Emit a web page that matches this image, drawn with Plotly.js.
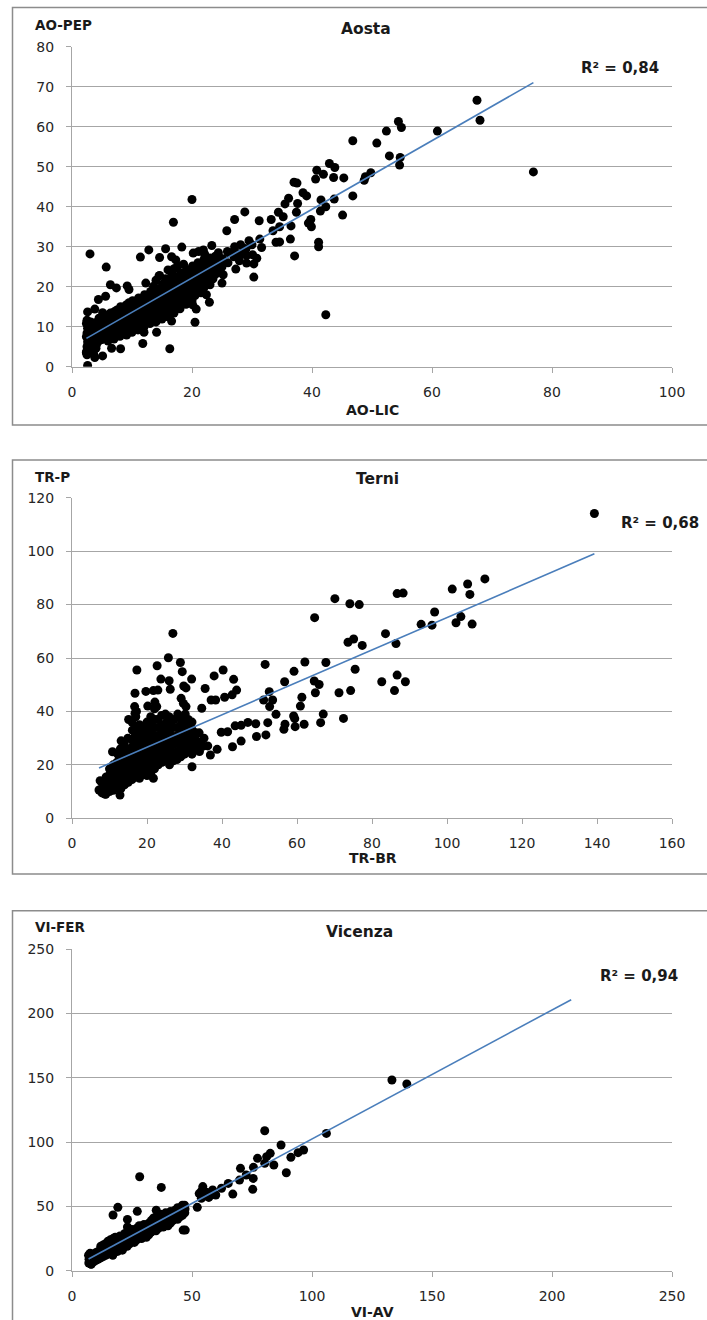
<!DOCTYPE html>
<html><head><meta charset="utf-8">
<script src="https://cdn.plot.ly/plotly-3.0.1.min.js"></script>
<style>html,body{margin:0;padding:0;background:#fff}#chart{width:707px;height:1320px}</style>
</head><body><div id="chart"></div>
<script>
// ---------- DATA ----------
const aostaPts = [
[76.9,48.7],[67.5,66.6],[68.0,61.6],[60.9,58.9],[54.4,61.3],[54.9,59.8],[52.4,58.9],[50.8,55.9],[52.9,52.7],[54.7,52.3],
[54.6,50.4],[46.8,56.5],[49.8,48.5],[48.9,47.5],[48.7,46.6],[42.9,50.8],[43.8,49.8],[40.8,49.1],[40.6,46.9],[43.6,47.3],
[45.3,47.2],[41.9,48.1],[46.8,42.7],[43.7,41.9],[41.5,41.7],[42.3,40.0],[41.4,38.9],[45.1,37.9],[37.0,46.1],[37.5,45.9],
[38.5,43.5],[39.1,42.7],[36.1,42.1],[35.5,40.7],[37.6,40.8],[37.4,38.6],[34.4,38.6],[35.2,37.5],[33.2,36.8],[34.6,35.0],
[33.5,34.0],[36.5,35.2],[39.8,36.8],[39.4,35.9],[39.9,35.0],[41.1,31.1],[41.1,30.0],[36.4,31.9],[37.1,27.7],[34.6,31.2],
[34.0,31.1],[31.2,36.5],[28.8,38.7],[27.1,36.8],[25.8,34.0],[31.3,31.9],[29.5,31.5],[31.6,29.8],[30.8,27.1],[29.1,25.9],
[30.3,25.7],[30.3,22.4],[27.3,24.4],[27.1,30.0],[28.6,29.6],[25.9,28.8],[23.3,30.3],[24.4,27.7],[23.7,25.9],[24.8,24.6],
[25.2,23.0],[25.0,20.9],[23.2,21.7],[22.4,18.0],[22.9,16.1],[20.0,41.8],[16.9,36.1],[12.8,29.2],[11.4,27.4],[14.6,27.3],
[15.6,29.5],[18.3,29.9],[20.2,28.4],[21.1,28.8],[21.9,29.2],[16.6,27.5],[17.3,26.7],[14.5,22.7],[12.3,20.9],[3.0,28.2],
[5.7,24.9],[6.4,20.5],[9.2,20.2],[9.5,19.3],[7.4,19.7],[5.6,17.6],[4.4,16.8],[3.8,14.4],[2.6,13.7],[20.5,11.1],
[20.7,14.4],[20.1,15.5],[42.3,13.0],[16.6,11.4],[14.1,8.6],[11.8,5.8],[16.3,4.5],[8.1,4.5],[6.6,4.6],[5.1,2.7],
[3.8,2.3],[2.6,0.3],[2.4,3.7],[2.6,5.1],
[2.4,3.5],[2.5,5.0],[2.6,6.2],[2.4,7.5],[2.5,8.4],[2.6,9.6],[2.4,10.8],[2.5,11.6],[2.6,4.2],[2.5,3.0],
[3.0,5.5],[3.1,7.0],[2.9,8.8],[3.0,10.2],[3.1,11.2],[3.0,6.4],
[3.5,4.0],[3.6,6.0],[3.4,9.1],[3.5,10.5],[3.6,3.2],
[4.0,7.2],[4.1,8.3],[3.9,11.0],[4.0,4.6],[4.1,5.6],
[4.5,6.5],[4.6,9.5],[4.4,10.3],[4.5,12.1],
[5.0,7.8],[5.1,8.9],[4.9,11.4],[5.0,6.8],[5.1,13.5],
[5.5,9.3],[5.6,10.6],[5.4,12.4],[5.5,7.1],
[6.0,6.4],[6.1,8.0],[5.9,11.8],[6.0,12.9],[6.1,9.9],
[6.5,7.5],[6.6,10.2],[6.4,13.4],[6.5,8.7],
[7.0,9.0],[7.1,11.1],[6.9,12.5],[7.0,6.9],[7.1,13.8],
[7.5,8.2],[7.6,10.5],[7.4,12.0],[7.5,14.2],
[8.0,7.6],[8.1,9.8],[7.9,11.6],[8.0,13.1],[8.1,15.0],
[8.5,8.9],[8.6,10.9],[8.4,12.8],[8.5,14.6],
[9.0,9.4],[9.1,11.3],[8.9,13.5],[9.0,15.4],[9.1,7.9],
[9.5,10.1],[9.6,12.2],[9.4,14.1],[9.5,16.0],
[10.0,8.6],[10.1,11.0],[9.9,12.9],[10.0,14.8],[10.1,16.5],
[10.5,10.4],[10.6,13.6],[10.4,15.2],[10.5,11.8],
[11.0,9.2],[11.1,12.0],[10.9,14.2],[11.0,15.9],[11.1,17.2],
[11.5,11.1],[11.6,13.0],[11.4,14.9],[11.5,16.8],
[12.0,10.0],[12.1,12.6],[11.9,14.5],[12.0,16.3],[12.1,18.0],[12.0,8.6],
[12.5,11.5],[12.6,13.9],[12.4,15.7],[12.5,17.6],
[13.0,10.8],[13.1,12.9],[12.9,15.0],[13.0,17.0],[13.1,18.8],
[13.5,12.4],[13.6,14.4],[13.4,16.4],[13.5,18.2],[13.6,20.1],
[14.0,11.2],[14.1,13.6],[13.9,15.8],[14.0,17.7],[14.1,19.5],[14.0,21.6],
[14.5,12.8],[14.6,15.2],[14.4,17.1],[14.5,19.0],[14.6,22.8],
[15.0,11.9],[15.1,14.3],[14.9,16.5],[15.0,18.5],[15.1,20.6],
[15.5,13.5],[15.6,15.9],[15.4,18.0],[15.5,20.0],[15.6,22.0],
[16.0,12.5],[16.1,15.0],[15.9,17.3],[16.0,19.4],[16.1,21.5],[16.0,24.2],
[16.5,14.2],[16.6,16.7],[16.4,18.8],[16.5,20.9],[16.6,23.4],
[17.0,13.4],[17.1,15.8],[16.9,18.1],[17.0,20.3],[17.1,22.5],[17.0,24.5],
[17.5,15.1],[17.6,17.5],[17.4,19.7],[17.5,21.9],[17.6,25.2],
[18.0,14.5],[18.1,16.8],[17.9,19.0],[18.0,21.2],[18.1,23.5],
[18.5,16.2],[18.6,18.4],[18.4,20.6],[18.5,22.8],[18.6,25.6],
[19.0,15.6],[19.1,17.9],[18.9,20.1],[19.0,22.2],[19.1,24.3],
[19.5,17.2],[19.6,19.4],[19.4,21.6],[19.5,23.8],
[20.0,16.5],[20.1,18.7],[19.9,21.0],[20.0,23.1],[20.1,25.2],
[20.5,17.8],[20.6,20.2],[20.4,22.5],[20.5,24.6],
[21.0,19.1],[21.1,21.4],[20.9,23.7],[21.0,26.0],
[21.5,18.5],[21.6,20.8],[21.4,23.0],[21.5,25.3],
[22.0,19.8],[22.1,22.1],[21.9,24.4],[22.0,26.8],[22.1,28.2],
[22.5,21.2],[22.6,23.5],[22.4,25.7],
[23.0,20.5],[23.1,22.8],[22.9,25.0],[23.0,27.2],
[23.5,22.0],[23.6,24.2],[23.4,26.5],
[24.0,23.2],[24.1,25.5],[23.9,27.6],
[24.5,24.0],[24.6,26.2],[24.4,28.5],
[25.0,25.0],[25.1,27.0],[26.0,26.0],[26.1,28.5],[27.0,27.5],[27.1,29.0],
[28.0,28.0],[28.1,30.5],[27.9,26.5],[29.0,29.5],[29.1,27.8],[30.0,30.5],[30.1,28.0]
];

const terniPts = [
[139.3,114.1],[110.1,89.6],[101.4,85.8],[105.5,87.7],[106.1,83.8],[86.7,84.1],[88.3,84.3],[70.1,82.2],[74.1,80.3],[76.6,80.0],
[64.7,75.1],[96.7,77.2],[93.1,72.6],[96.0,72.3],[102.4,73.2],[103.7,75.5],[106.7,72.7],[83.6,69.1],[86.4,65.4],[73.6,65.9],
[75.1,67.1],[77.4,64.7],[67.7,58.3],[62.1,58.5],[59.2,55.0],[75.5,55.8],[56.7,51.1],[51.5,57.6],[82.6,51.1],[86.7,53.6],
[88.9,51.1],[86.0,47.8],[74.3,47.8],[71.2,47.0],[64.6,51.4],[65.9,50.1],[64.9,47.0],[61.3,45.3],[60.9,42.0],[52.6,47.4],
[53.5,44.3],[52.7,41.8],[51.1,44.3],[54.4,38.9],[59.1,38.3],[59.4,37.3],[56.8,35.2],[56.5,33.3],[59.5,34.3],[61.9,35.2],
[67.0,39.0],[66.3,35.8],[72.4,37.4],[52.2,35.8],[51.7,31.2],[49.2,30.6],[49.0,35.4],[46.9,35.9],[45.1,34.8],[43.5,34.6],
[45.1,28.9],[42.8,26.8],[41.5,32.4],[39.8,32.2],[38.7,25.8],[36.9,23.7],[36.2,27.1],[43.9,48.0],[42.7,46.2],[43.1,52.0],
[40.7,45.3],[40.3,55.5],[37.9,53.3],[37.1,44.3],[38.3,44.3],[35.5,48.6],[34.6,41.2],[31.9,52.1],[26.9,69.2],[25.7,60.1],
[28.9,58.3],[22.7,57.1],[29.4,54.9],[25.9,51.5],[23.7,52.1],[26.2,48.3],[17.3,55.5],[16.8,46.8],[19.7,47.5],[21.7,47.8],
[22.9,48.0],[22.1,43.5],[22.6,41.8],[29.8,49.5],[30.4,48.8],[29.1,44.9],[29.7,43.0],[30.4,41.8],[32.0,19.3],[21.7,15.0],
[10.8,24.9],[7.5,14.1],[7.2,10.6],[8.8,9.1],[12.8,8.7],[16.7,41.8],[16.8,39.3],
[8.0,9.5],[8.2,11.5],[7.9,13.5],
[9.0,9.0],[9.2,11.0],[8.9,13.0],[9.1,15.5],
[10.0,10.0],[10.2,12.0],[9.9,14.0],[10.1,16.5],[10.0,18.5],
[11.0,10.5],[11.2,12.5],[10.9,14.5],[11.1,17.0],[11.0,20.0],
[12.0,11.5],[12.2,13.5],[11.9,16.0],[12.1,18.5],[12.0,21.0],[12.2,24.0],
[13.0,11.0],[13.2,13.0],[12.9,15.5],[13.1,18.0],[13.0,20.5],[13.2,23.0],[12.9,26.0],[13.1,29.0],
[14.0,12.5],[14.2,14.5],[13.9,17.0],[14.1,19.5],[14.0,22.0],[14.2,25.0],[13.9,28.0],
[15.0,13.5],[15.2,15.5],[14.9,18.0],[15.1,20.5],[15.0,23.0],[15.2,26.0],[14.9,30.0],[15.1,37.0],
[16.0,14.5],[16.2,16.5],[15.9,19.0],[16.1,22.0],[16.0,24.5],[16.2,27.0],[15.9,29.5],[16.1,33.0],[16.0,36.0],
[17.0,15.5],[17.2,18.0],[16.9,20.5],[17.1,23.0],[17.0,25.5],[17.2,28.0],[16.9,31.0],[17.1,34.0],[17.0,38.0],[17.2,40.0],
[18.0,15.0],[18.2,17.5],[17.9,20.0],[18.1,22.5],[18.0,25.0],[18.2,27.5],[17.9,30.0],[18.1,32.5],[18.0,35.0],
[19.0,16.5],[19.2,19.0],[18.9,21.5],[19.1,24.0],[19.0,26.5],[19.2,29.0],[18.9,31.5],[19.1,34.0],
[20.0,16.0],[20.2,18.0],[19.9,20.5],[20.1,23.0],[20.0,25.5],[20.2,28.0],[19.9,30.5],[20.1,33.0],[20.0,36.0],[20.2,42.0],
[21.0,17.0],[21.2,19.5],[20.9,22.0],[21.1,24.5],[21.0,27.0],[21.2,29.5],[20.9,32.0],[21.1,35.0],[21.0,38.0],
[22.0,18.5],[22.2,21.0],[21.9,23.5],[22.1,26.0],[22.0,28.5],[22.2,31.0],[21.9,34.0],[22.1,37.0],[22.0,41.0],
[23.0,20.0],[23.2,22.5],[22.9,25.0],[23.1,28.0],[23.0,31.0],[23.2,34.0],[22.9,37.0],
[24.0,21.0],[24.2,23.5],[23.9,26.0],[24.1,29.0],[24.0,32.0],[24.2,35.0],[23.9,38.5],
[25.0,22.0],[25.2,24.5],[24.9,27.0],[25.1,30.0],[25.0,33.0],[25.2,36.0],[24.9,39.0],
[26.0,20.0],[26.2,23.0],[25.9,26.0],[26.1,29.0],[26.0,32.0],[26.2,35.0],[25.9,38.0],
[27.0,21.5],[27.2,24.5],[26.9,27.5],[27.1,30.5],[27.0,34.0],[27.2,37.0],
[28.0,22.0],[28.2,25.0],[27.9,28.0],[28.1,31.0],[28.0,34.0],[28.2,39.0],
[29.0,23.0],[29.2,26.0],[28.9,29.0],[29.1,32.0],[29.0,35.0],[29.2,37.0],
[30.0,24.0],[30.2,27.0],[29.9,30.0],[30.1,33.0],[30.0,36.0],[30.2,39.0],
[31.0,25.0],[31.2,28.0],[30.9,31.0],[31.1,34.0],[31.0,37.0],
[32.0,24.0],[32.2,27.0],[31.9,30.0],[32.1,33.0],[32.0,36.0],
[33.0,26.0],[33.2,29.0],[32.9,32.0],[34.0,25.0],[34.2,28.5],[33.9,32.0],[35.0,27.0],[35.2,30.0]
];

const vicenzaPts = [
[133.3,148.3],[139.5,145.2],[106.0,106.8],[80.3,108.9],[87.1,97.8],[96.5,93.9],[94.2,91.8],[91.2,88.2],[89.3,76.2],[82.6,91.3],
[81.1,88.7],[77.3,87.4],[84.1,82.2],[80.3,83.5],[75.6,80.4],[70.2,79.6],[75.5,71.8],[75.3,63.3],[67.0,59.6],[69.8,70.5],
[72.6,74.4],[65.1,67.9],[62.3,64.1],[59.9,58.9],[58.6,62.8],[54.5,65.4],[55.8,59.6],[53.9,56.3],[52.2,49.3],[47.2,31.6],
[46.3,31.6],[37.2,64.8],[28.2,73.1],[19.1,49.3],[17.1,43.3],[27.2,46.2],[23.1,39.9],[7.5,13.5],[7.9,5.2],
[53.0,60.0],[54.0,62.0],[55.0,58.0],[56.0,61.0],[57.0,57.0],
[7.0,6.0],[7.1,9.0],[6.9,12.0],[8.0,5.0],[8.1,8.0],[7.9,11.0],[9.0,7.0],[9.1,10.0],[8.9,13.0],
[10.0,8.0],[10.1,11.0],[9.9,14.0],[11.0,9.0],[11.1,12.0],[10.9,15.0],
[12.0,10.0],[12.1,13.0],[11.9,16.0],[12.0,19.0],[13.0,11.0],[13.1,14.0],[12.9,17.0],[13.0,20.0],
[14.0,12.0],[14.1,15.0],[13.9,18.0],[14.0,21.0],[15.0,13.0],[15.1,16.0],[14.9,19.0],[15.0,23.0],
[16.0,14.0],[16.1,17.0],[15.9,20.0],[16.0,24.0],[17.0,12.0],[17.1,15.0],[16.9,18.0],[17.0,21.0],[17.1,25.0],
[18.0,16.0],[18.1,19.0],[17.9,22.0],[18.0,26.0],[19.0,15.0],[19.1,18.0],[18.9,21.0],[19.0,24.0],
[20.0,17.0],[20.1,20.0],[19.9,23.0],[20.0,27.0],[21.0,16.0],[21.1,19.0],[20.9,22.0],[21.0,25.0],
[22.0,20.0],[22.1,23.0],[21.9,26.0],[22.0,29.0],[23.0,19.0],[23.1,22.0],[22.9,25.0],[23.0,28.0],[23.1,34.0],
[24.0,21.0],[24.1,24.0],[23.9,27.0],[24.0,30.0],[25.0,23.0],[25.1,26.0],[24.9,29.0],[25.0,32.0],
[26.0,22.0],[26.1,25.0],[25.9,28.0],[26.0,31.0],[27.0,24.0],[27.1,27.0],[26.9,30.0],[27.0,33.0],
[28.0,26.0],[28.1,29.0],[27.9,32.0],[28.0,35.0],[29.0,25.0],[29.1,28.0],[28.9,31.0],[29.0,34.0],
[30.0,27.0],[30.1,30.0],[29.9,33.0],[30.0,36.0],[31.0,26.0],[31.1,29.0],[30.9,32.0],[31.0,35.0],
[32.0,28.0],[32.1,31.0],[31.9,34.0],[32.0,37.0],[33.0,30.0],[33.1,33.0],[32.9,36.0],[33.0,39.0],
[34.0,32.0],[34.1,35.0],[33.9,38.0],[34.0,41.0],[35.0,31.0],[35.1,34.0],[34.9,37.0],[35.0,40.0],[35.1,47.0],
[36.0,33.0],[36.1,36.0],[35.9,39.0],[36.0,43.0],[37.0,35.0],[37.1,38.0],[36.9,41.0],[37.0,44.0],
[38.0,34.0],[38.1,37.0],[37.9,40.0],[38.0,43.0],[39.0,36.0],[39.1,39.0],[38.9,42.0],[39.0,45.0],
[40.0,35.0],[40.1,38.0],[39.9,41.0],[40.0,44.0],[41.0,37.0],[41.1,40.0],[40.9,43.0],[41.0,46.0],
[42.0,39.0],[42.1,42.0],[41.9,45.0],[43.0,41.0],[43.1,44.0],[42.9,47.0],
[44.0,40.0],[44.1,43.0],[43.9,46.0],[44.0,49.0],[45.0,42.0],[45.1,45.0],[44.9,48.0],
[46.0,43.0],[46.1,46.0],[45.9,49.0],[46.0,51.0],[47.0,45.0],[47.1,48.0],[46.9,51.0]
];

const panelTitles = ['Aosta', 'Terni', 'Vicenza'];
const xTitles = ['AO-LIC', 'TR-BR', 'VI-AV'];
const yTitles = ['AO-PEP', 'TR-P', 'VI-FER'];
const r2Labels = ['R\u00b2 = 0,84', 'R\u00b2 = 0,68', 'R\u00b2 = 0,94'];
const xRanges = [[0, 100], [0, 160], [0, 250]];
const yRanges = [[0, 80], [0, 120], [0, 250]];
const xDticks = [20, 20, 50];
const yDticks = [10, 20, 50];
const trendForecastEnd = [null, null, 208];   // Vicenza trendline is extended forward

// ---------- GEOMETRY (pixels) ----------
const W = 707, H = 1320;
const geo = [
  {plotTop: 46.7, plotBot: 366.7, boxTop: 7.5, boxBot: 425, yLab: 25, tY: 29, tX: 366, r2X: 579, r2Y: 68, xtY: 410},
  {plotTop: 497.7, plotBot: 818.3, boxTop: 460, boxBot: 874, yLab: 477, tY: 479, tX: 377, r2X: 619, r2Y: 523, xtY: 858},
  {plotTop: 949.3, plotBot: 1270.7, boxTop: 910.7, boxBot: 1330, yLab: 927, tY: 931.5, tX: 359, r2X: 598, r2Y: 976, xtY: 1312}
];
const plotL = 72, plotR = 672;
const px = v => v / W, py = v => 1 - v / H;

function fit(pts) {
  const n = pts.length;
  let sx = 0, sy = 0, sxx = 0, sxy = 0;
  pts.forEach(([x, y]) => { sx += x; sy += y; sxx += x * x; sxy += x * y; });
  const b = (n * sxy - sx * sy) / (n * sxx - sx * sx);
  const a = (sy - b * sx) / n;
  return {a, b};
}

const allPts = [aostaPts, terniPts, vicenzaPts];
const traces = [];
const FAM = '"DejaVu Sans", Verdana, sans-serif';
const layout = {
  width: W, height: H, margin: {l: 0, r: 0, t: 0, b: 0},
  paper_bgcolor: '#fff', plot_bgcolor: '#fff', showlegend: false,
  font: {family: FAM, color: '#262626'},
  shapes: [], annotations: []
};
const gray = '#a6a6a6';
const tickFont = {family: FAM, size: 14, color: '#262626'};
const boldFont = (s) => ({family: FAM, size: s, color: '#1a1a1a', weight: 'bold'});

allPts.forEach((pts, i) => {
  const sfx = i === 0 ? '' : String(i + 1);
  const xs = pts.map(p => p[0]), ys = pts.map(p => p[1]);
  traces.push({type: 'scatter', mode: 'markers', x: xs, y: ys, xaxis: 'x' + sfx, yaxis: 'y' + sfx,
    marker: {color: '#000', size: 9}, hoverinfo: 'skip'});
  const f = fit(pts);
  const x0 = Math.min(...xs);
  const x1 = trendForecastEnd[i] !== null ? trendForecastEnd[i] : Math.max(...xs);
  traces.push({type: 'scatter', mode: 'lines', x: [x0, x1], y: [f.a + f.b * x0, f.a + f.b * x1],
    xaxis: 'x' + sfx, yaxis: 'y' + sfx, line: {color: '#4a7ebb', width: 1.6}, hoverinfo: 'skip'});

  const g = geo[i];
  layout['xaxis' + sfx] = {
    domain: [px(plotL), px(plotR)], anchor: 'y' + sfx, range: xRanges[i], dtick: xDticks[i], tick0: 0,
    showgrid: false, zeroline: false, showline: true, linecolor: gray, linewidth: 1,
    ticks: 'outside', ticklen: 5, tickcolor: gray, tickfont: tickFont, ticklabelstandoff: 7, fixedrange: true
  };
  layout['yaxis' + sfx] = {
    domain: [py(g.plotBot), py(g.plotTop)], anchor: 'x' + sfx, range: yRanges[i], dtick: yDticks[i], tick0: 0,
    showgrid: true, gridcolor: gray, gridwidth: 1, zeroline: false, showline: true, linecolor: gray, linewidth: 1,
    ticks: 'outside', ticklen: 5, tickcolor: gray, tickfont: tickFont, ticklabelstandoff: 9, fixedrange: true
  };
  layout.shapes.push({type: 'rect', xref: 'paper', yref: 'paper', x0: px(12.5), x1: px(720),
    y0: py(g.boxBot), y1: py(g.boxTop), line: {color: '#8c8c8c', width: 1.5}, fillcolor: 'rgba(0,0,0,0)', layer: 'below'});
  layout.annotations.push(
    {text: panelTitles[i], xref: 'paper', yref: 'paper', x: px(g.tX), y: py(g.tY), xanchor: 'center', yanchor: 'middle', showarrow: false, font: boldFont(15.5)},
    {text: yTitles[i], xref: 'paper', yref: 'paper', x: px(33), y: py(g.yLab), xanchor: 'left', yanchor: 'middle', showarrow: false, font: boldFont(13.5)},
    {text: xTitles[i], xref: 'paper', yref: 'paper', x: px(372.5), y: py(g.xtY), xanchor: 'center', yanchor: 'middle', showarrow: false, font: boldFont(14)},
    {text: r2Labels[i], xref: 'paper', yref: 'paper', x: px(g.r2X), y: py(g.r2Y), xanchor: 'left', yanchor: 'middle', showarrow: false, font: boldFont(15)}
  );
});

Plotly.newPlot('chart', traces, layout, {displayModeBar: false, staticPlot: true});
</script>
</body></html>
